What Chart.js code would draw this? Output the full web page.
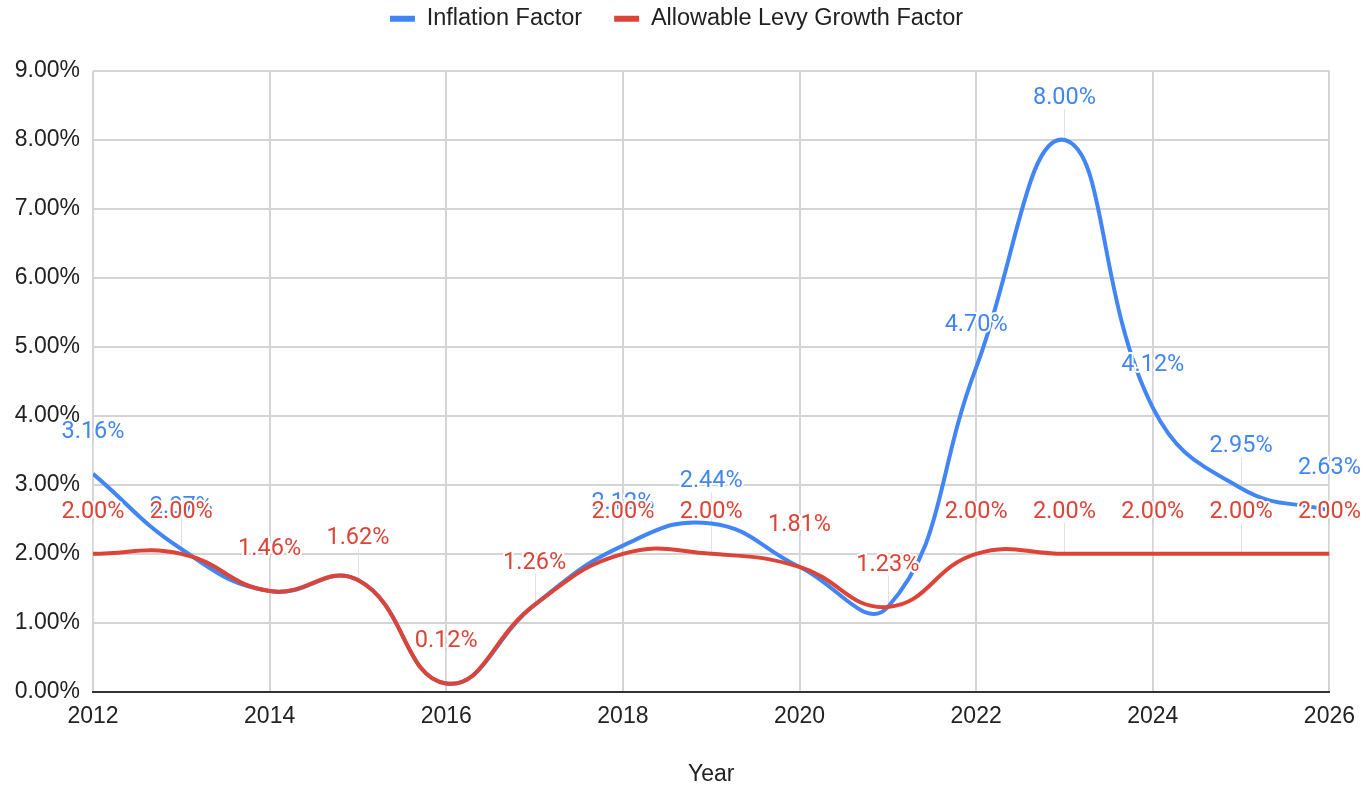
<!DOCTYPE html>
<html>
<head>
<meta charset="utf-8">
<title>Inflation Factor vs Allowable Levy Growth Factor</title>
<script src="https://cdn.jsdelivr.net/npm/chart.js@4.4.1/dist/chart.umd.min.js"></script>
<style>
  html, body { margin: 0; padding: 0; background: #fff; }
  #chart { display: block; }
</style>
</head>
<body>
<canvas id="chart" width="1366" height="785"></canvas>
<script>
// Data
const years = [2012, 2013, 2014, 2015, 2016, 2017, 2018, 2019, 2020, 2021, 2022, 2023, 2024, 2025, 2026];
const inflationFactor = [3.16, 2.07, 1.46, 1.62, 0.12, 1.26, 2.12, 2.44, 1.81, 1.23, 4.70, 8.00, 4.12, 2.95, 2.63];
const levyGrowthFactor = [2.00, 2.00, 1.46, 1.62, 0.12, 1.26, 2.00, 2.00, 1.81, 1.23, 2.00, 2.00, 2.00, 2.00, 2.00];
const xTickValues = [2012, 2014, 2016, 2018, 2020, 2022, 2024, 2026];
const yTickValues = [0, 1, 2, 3, 4, 5, 6, 7, 8, 9];

const BLUE = '#4285f4';
const RED = '#db4437';
const AXIS_FONT = { family: '"Liberation Sans", Arial, sans-serif', size: 23 };
const LEGEND_FONT = { family: '"Liberation Sans", Arial, sans-serif', size: 23.5 };
const LABEL_OFFSET = 42;   // label centre sits this far above its point
const LEGEND_TOP = -25;
const LEGEND_HEIGHT = 96;

// Value labels with the thin stems Google Sheets draws
const pointLabels = {
    id: 'pointLabels',
    beforeLayout(chart) {
        const legend = chart.legend;
        if (legend && !legend._fixedHeight) {
            const fit = legend.fit;
            legend.fit = function () {
                fit.call(this);
                this.height = LEGEND_HEIGHT;
            };
            legend._fixedHeight = true;
        }
    },
    beforeDatasetsDraw(chart) {
        const ctx = chart.ctx;
        ctx.save();
        ctx.strokeStyle = '#e2e2e2';
        ctx.lineWidth = 1;
        chart.data.datasets.forEach((ds, i) => {
            chart.getDatasetMeta(i).data.forEach(pt => {
                const x = Math.round(pt.x) + 0.5;
                ctx.beginPath();
                ctx.moveTo(x, pt.y);
                ctx.lineTo(x, pt.y - LABEL_OFFSET + 11);
                ctx.stroke();
            });
        });
        ctx.restore();
    },
    afterDatasetsDraw(chart) {
        const ctx = chart.ctx;
        ctx.save();
        ctx.font = '23.5px Roboto, sans-serif';
        ctx.textAlign = 'center';
        ctx.textBaseline = 'middle';
        ctx.lineJoin = 'round';
        chart.data.datasets.forEach((ds, i) => {
            chart.getDatasetMeta(i).data.forEach((pt, j) => {
                const text = ds.data[j].y.toFixed(2) + '%';
                const y = pt.y - LABEL_OFFSET;
                ctx.strokeStyle = '#fff';
                ctx.lineWidth = 4;
                ctx.strokeText(text, pt.x, y);
                ctx.fillStyle = ds.borderColor;
                ctx.fillText(text, pt.x, y);
            });
        });
        ctx.restore();
    }
};

const ctx = document.getElementById('chart').getContext('2d');
const chart = new Chart(ctx, {
    type: 'line',
    data: {
        datasets: [
            {
                label: 'Inflation Factor',
                data: years.map((yr, i) => ({ x: yr, y: inflationFactor[i] })),
                borderColor: BLUE,
                backgroundColor: BLUE,
                borderWidth: 4,
                pointRadius: 0,
                tension: 0.45,
                order: 1
            },
            {
                label: 'Allowable Levy Growth Factor',
                data: years.map((yr, i) => ({ x: yr, y: levyGrowthFactor[i] })),
                borderColor: RED,
                backgroundColor: RED,
                borderWidth: 4,
                pointRadius: 0,
                tension: 0.45,
                order: 0
            }
        ]
    },
    options: {
        responsive: false,
        animation: false,
        layout: { padding: { top: LEGEND_TOP, left: 0, right: 13, bottom: -3 } },
        plugins: {
            tooltip: { enabled: false },
            legend: {
                position: 'top',
                labels: {
                    font: LEGEND_FONT,
                    color: '#222',
                    boxWidth: 25,
                    boxHeight: 6,
                    padding: 32,
                    sort: (a, b) => a.datasetIndex - b.datasetIndex,
                    generateLabels: c => Chart.defaults.plugins.legend.labels.generateLabels(c)
                        .map(l => ({ ...l, lineWidth: 0 }))
                }
            }
        },
        scales: {
            x: {
                type: 'linear',
                min: 2012,
                max: 2026,
                afterBuildTicks: s => { s.ticks = xTickValues.map(v => ({ value: v })); },
                ticks: {
                    font: AXIS_FONT,
                    color: '#222',
                    padding: 11,
                    maxRotation: 0,
                    callback: v => String(v)
                },
                grid: { color: '#d4d4d4', lineWidth: 2, drawTicks: false },
                border: { color: '#333', width: 2 },
                title: {
                    display: true,
                    text: 'Year',
                    font: AXIS_FONT,
                    color: '#222',
                    padding: { top: 19, bottom: 0 }
                }
            },
            y: {
                min: 0,
                max: 9,
                afterBuildTicks: s => { s.ticks = yTickValues.map(v => ({ value: v })); },
                afterFit: s => { s.width = 93; },
                ticks: {
                    font: AXIS_FONT,
                    color: '#222',
                    padding: 13,
                    callback: v => v.toFixed(2) + '%'
                },
                grid: { color: '#d4d4d4', lineWidth: 2, drawTicks: false },
                border: { display: false }
            }
        }
    },
    plugins: [pointLabels]
});
</script>
</body>
</html>
